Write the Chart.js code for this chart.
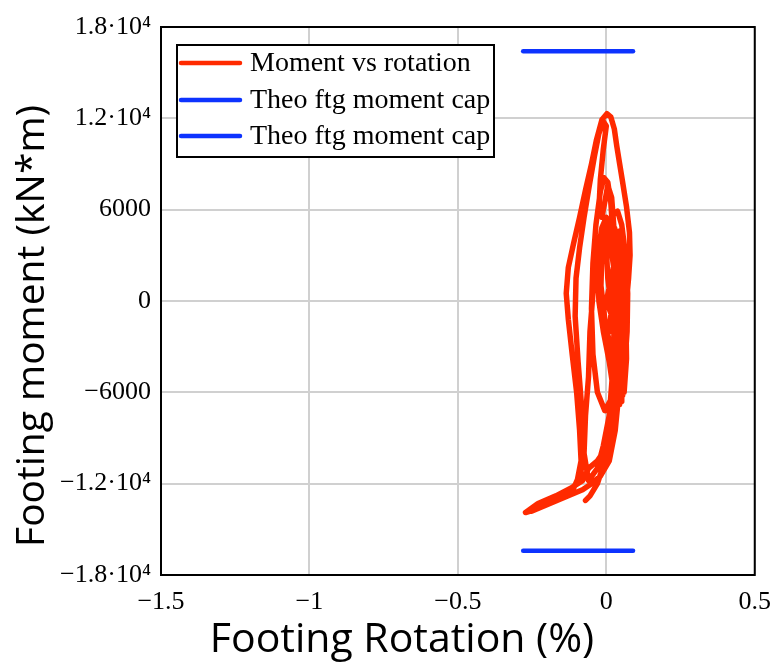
<!DOCTYPE html>
<html>
<head>
<meta charset="utf-8">
<script src="https://cdn.jsdelivr.net/npm/chart.js@4.4.1/dist/chart.umd.min.js"></script>
<style>
html,body{margin:0;padding:0;background:#fff;}
#wrap{width:783px;height:672px;}
</style>
</head>
<body>
<div id="wrap"><canvas id="c" width="783" height="672"></canvas></div>
<script>
// ---- data ----
const rotation = [
  0.010, 0.025, 0.040, 0.050, 0.058, 0.066, 0.068, 0.060, 0.048, 0.035,
  0.020, 0.005, 0.000, 0.010, 0.028, 0.045, 0.055, 0.062, 0.058, 0.045,
  0.025, 0.010, -0.010, -0.025, -0.030, -0.020, -0.008, 0.012, 0.030, 0.040,
  0.050, 0.055, 0.047, 0.038,
  0.000, 0.020, 0.035, 0.045, 0.055, 0.062, 0.064, 0.060, 0.050, 0.035,
  0.015, -0.005, -0.018, -0.015, 0.000, 0.020, 0.038, 0.052, 0.065, 0.072,
  0.070, 0.062, 0.050, 0.052, 0.045, 0.030, 0.015, -0.005, -0.030, -0.045,
  -0.050, -0.045, -0.035, -0.020, -0.008, 0.005, 0.015, 0.022, 0.030, 0.040,
  0.045, 0.040, 0.025, 0.005, -0.030, -0.060, -0.080, -0.120, -0.170, -0.230,
  -0.272, -0.240, -0.190, -0.140, -0.100, -0.085, -0.090, -0.100, -0.115, -0.128,
  -0.135, -0.128, -0.110, -0.090, -0.070, -0.050, -0.033, -0.015, 0.002, 0.015,
  0.027, 0.035, 0.045, 0.055, 0.068, 0.078, 0.080, 0.075, 0.068, 0.060,
  0.050, 0.040, 0.030, 0.010, -0.020, -0.050, -0.080, -0.130, -0.190, -0.250,
  -0.220, -0.160, -0.110, -0.085, -0.080, -0.085, -0.095, -0.105, -0.102, -0.090,
  -0.075, -0.058, -0.040, -0.025, -0.010, 0.000, -0.010, -0.020, -0.025, -0.015,
  -0.005, 0.005, 0.018, 0.025, 0.028, 0.030, 0.025, 0.020, 0.010, -0.010,
  -0.030, -0.060, -0.075, -0.070, -0.060, -0.055, -0.045, -0.030, -0.015, 0.000,
  0.015, 0.030, 0.040, 0.045, 0.040, 0.030, 0.015, -0.005, -0.030, -0.055,
  -0.070
];
const moment = [
  -2000, 1000, 3800, 4300, 2500, -1000, -3800, -6000, -5200, -2500,
  -800, 1500, 3500, 4500, 4800, 3000, 500, -2500, -5500, -6800,
  -6000, -4000, -2000, 0, 2500, 4200, 5000, 4000, 1500, -1000,
  -3500, -6200, -4500, -2000,
  0, 1800, 3500, 4600, 4200, 2000, -500, -2500, -3800, -4300,
  -3200, -1200, 1000, 3200, 4800, 5600, 5900, 5000, 3000, 500,
  -2000, -4200, -6600, -5000, -3500, -5200, -6500, -7200, -6000, -3500,
  -500, 2500, 5000, 7200, 8100, 7800, 6500, 4500, 2000, -1000,
  -3000, -5500, -7800, -9500, -10500, -11000, -11800, -12300, -12800, -13300,
  -13900, -13700, -13200, -12700, -12000, -10500, -8500, -6000, -3500, -1200,
  500, 2200, 3800, 5500, 7300, 9000, 10600, 11900, 12300, 12100,
  11300, 10200, 9000, 7800, 6200, 4500, 3000, 1500, 0, -2000,
  -4000, -6500, -8500, -10500, -11500, -12000, -12400, -12800, -13300, -13800,
  -13400, -12900, -12300, -11200, -9000, -6500, -4000, -1000, 1500, 3500,
  5500, 7500, 9500, 11000, 11800, 11500, 10000, 8000, 6000, 5500,
  6500, 7600, 6800, 5000, 2500, 0, -2500, -5000, -7500, -9500,
  -11000, -11800, -10000, -7500, -5000, -2000, 500, 3000, 4800, 5500,
  5000, 3500, 1000, -1500, -4000, -6500, -8500, -10500, -12000, -12800,
  -13100
];
const capRotation = [-0.28, 0.09];
const capTop = [16400, 16400];
const capBottom = [-16400, -16400];
const xTickLabels = {"-1.5": "\u22121.5", "-1": "\u22121", "-0.5": "\u22120.5", "0": "0", "0.5": "0.5"};
const yTickLabels = {"18000": "1.8\u00b710\u2074", "12000": "1.2\u00b710\u2074", "6000": "6000", "0": "0",
  "-6000": "\u22126000", "-12000": "\u22121.2\u00b710\u2074", "-18000": "\u22121.8\u00b710\u2074"};
const seriesLabels = ["Moment vs rotation", "Theo ftg moment cap", "Theo ftg moment cap"];
const xTitle = "Footing Rotation (%)";
const yTitle = "Footing moment (kN*m)";

const RED = "#ff2a00", BLUE = "#0d33ff";
const pts = (xs, ys) => xs.map((x, i) => ({x: x, y: ys[i]}));

const frameAndLegend = {
  id: "frameAndLegend",
  afterDatasetsDraw(chart) {
    const ctx = chart.ctx, a = chart.chartArea;
    ctx.save();
    ctx.strokeStyle = "#000"; ctx.lineWidth = 2;
    ctx.strokeRect(a.left, a.top, a.right - a.left, a.bottom - a.top);
    // legend box
    const bx = 177, by = 45, bw = 317, bh = 112;
    ctx.fillStyle = "#fff"; ctx.fillRect(bx, by, bw, bh);
    ctx.strokeRect(bx, by, bw, bh);
    const rows = [63, 100, 136];
    chart.data.datasets.forEach((ds, i) => {
      ctx.strokeStyle = ds.borderColor; ctx.lineWidth = 4.5; ctx.lineCap = "round";
      ctx.beginPath(); ctx.moveTo(181, rows[i]); ctx.lineTo(240, rows[i]); ctx.stroke();
      ctx.fillStyle = "#000"; ctx.font = "28px 'Liberation Serif'";
      ctx.textBaseline = "middle"; ctx.textAlign = "left";
      ctx.fillText(ds.label, 250, rows[i] + 1);
    });
    // axis titles
    ctx.fillStyle = "#000";
    ctx.textAlign = "center"; ctx.textBaseline = "middle";
    ctx.font = "41px 'Open Sans'";
    ctx.fillText(xTitle, 402, 640);
    ctx.font = "39px 'Open Sans'";
    ctx.translate(33, 326); ctx.rotate(-Math.PI / 2);
    ctx.fillText(yTitle, 0, 0);
    ctx.restore();
  }
};

new Chart(document.getElementById("c"), {
  type: "scatter",
  data: {
    datasets: [
      {label: seriesLabels[0], data: pts(rotation, moment), showLine: true, borderColor: RED,
       backgroundColor: RED, borderWidth: 5.5, pointRadius: 0, tension: 0, borderCapStyle: "round", borderJoinStyle: "round"},
      {label: seriesLabels[1], data: pts(capRotation, capTop), showLine: true, borderColor: BLUE,
       backgroundColor: BLUE, borderWidth: 4.5, pointRadius: 0, borderCapStyle: "round"},
      {label: seriesLabels[2], data: pts(capRotation, capBottom), showLine: true, borderColor: BLUE,
       backgroundColor: BLUE, borderWidth: 4.5, pointRadius: 0, borderCapStyle: "round"}
    ]
  },
  options: {
    responsive: false, animation: false,
    layout: {padding: {left: 0, top: 27, right: 22, bottom: 0}},
    plugins: {legend: {display: false}, tooltip: {enabled: false}},
    scales: {
      x: {
        type: "linear", min: -1.5, max: 0.5,
        ticks: {stepSize: 0.5, color: "#000", padding: 12, font: {family: "'Liberation Serif'", size: 26},
          callback: v => xTickLabels[String(v)] ?? ""},
        grid: {color: "#d0d0d0", lineWidth: 2, drawTicks: false},
        border: {display: false},
        afterFit: s => { s.height = 97; }
      },
      y: {
        type: "linear", min: -18000, max: 18000,
        ticks: {stepSize: 6000, color: "#000", padding: 10, font: {family: "'Liberation Serif'", size: 26},
          callback: v => yTickLabels[String(v)] ?? ""},
        grid: {color: "#d0d0d0", lineWidth: 2, drawTicks: false},
        border: {display: false},
        afterFit: s => { s.width = 161; }
      }
    }
  },
  plugins: [frameAndLegend]
});
</script>
</body>
</html>
